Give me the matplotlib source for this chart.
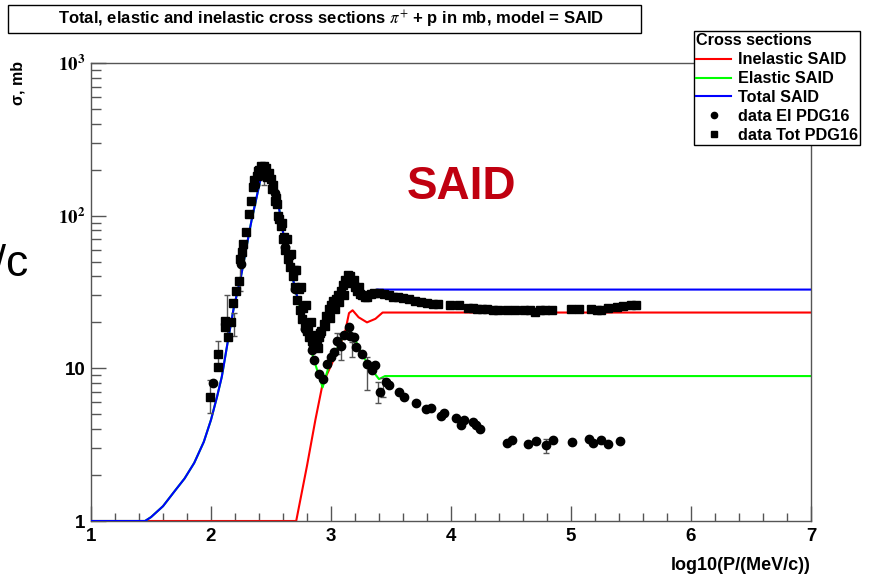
import matplotlib
matplotlib.use("Agg")
import matplotlib.pyplot as plt
from matplotlib.patches import Rectangle
from matplotlib.lines import Line2D
from matplotlib.ticker import FixedLocator, LogLocator, NullFormatter, FixedFormatter

plt.rcParams['font.family'] = ['Liberation Sans', 'DejaVu Sans']
plt.rcParams['mathtext.fontset'] = 'stix'
plt.rcParams['mathtext.bf'] = 'Liberation Sans:bold'

# SAID model curves
x_inel = [1.0, 2.71, 2.80, 2.87, 2.93, 3.02, 3.09, 3.12, 3.15, 3.18, 3.23, 3.30, 3.37, 3.43, 7.0]
y_inel = [1.0, 1.0, 2.3, 4.6, 7.9, 11.3, 15.2, 17.7, 23.0, 24.0, 21.6, 20.0, 21.1, 23.2, 23.2]

x_el = [1.0, 1.45, 1.50, 1.60, 1.70, 1.78, 1.86, 1.94, 2.00, 2.05, 2.09, 2.14, 2.19, 2.25, 2.30,
        2.34, 2.38, 2.41, 2.44, 2.47, 2.51, 2.55, 2.60, 2.66, 2.71, 2.77, 2.83, 2.88, 2.93, 2.98,
        3.03, 3.09, 3.15, 3.20, 3.26, 3.33, 3.40, 3.45, 7.0]
y_el = [1.0, 1.0, 1.06, 1.25, 1.58, 1.9, 2.4, 3.3, 4.6, 6.5, 8.8, 15, 25, 40, 65,
        95, 132, 170, 200, 190, 165, 135, 78, 46, 31, 20.5, 13.5, 10.0, 7.5, 10.2,
        12.5, 15.5, 18.0, 15.5, 12.3, 10.0, 8.5, 8.9, 8.9]

x_tot = [1.0, 1.45, 1.50, 1.60, 1.70, 1.78, 1.86, 1.94, 2.00, 2.05, 2.09, 2.14, 2.19, 2.25, 2.30,
         2.34, 2.38, 2.41, 2.44, 2.47, 2.51, 2.55, 2.60, 2.66, 2.71, 2.77, 2.83, 2.87, 2.93, 2.97,
         3.03, 3.08, 3.12, 3.15, 3.19, 3.25, 3.30, 3.35, 3.38, 7.0]
y_tot = [1.0, 1.0, 1.06, 1.25, 1.58, 1.9, 2.4, 3.3, 4.6, 6.5, 8.8, 15, 25, 40, 65,
         95, 132, 170, 200, 190, 165, 135, 78, 46, 31, 22.8, 17.7, 14.8, 17.7, 24,
         27.8, 32, 39, 42, 35.7, 31.6, 29.4, 30.5, 32.8, 32.8]

# PDG16 total cross section data (squares)
tot_x = [1.99, 2.06, 2.06, 2.12, 2.12, 2.145, 2.17, 2.18, 2.21, 2.23, 2.24, 2.26, 2.27, 2.29, 2.32,
         2.33, 2.35, 2.38, 2.40, 2.42, 2.44, 2.46, 2.48, 2.50, 2.52, 2.54, 2.56, 2.58, 2.60, 2.62,
         2.64, 2.66, 2.68, 2.70, 2.72, 2.74, 2.76, 2.78, 2.80, 2.82, 2.84, 2.86, 2.88, 2.90, 2.92,
         2.94, 2.96, 2.98, 3.00, 3.02, 3.04, 3.06, 3.08, 3.10, 3.12, 3.14, 3.16, 3.18, 3.20, 3.22,
         3.24, 3.26, 3.28, 3.30, 3.33, 3.36, 3.40, 3.44, 3.48, 3.52, 3.56, 3.60, 3.65, 3.70, 3.75,
         3.80, 3.85, 3.89, 3.99, 4.07, 4.14, 4.18, 4.22, 4.26, 4.30, 4.35, 4.39, 4.47, 4.53, 4.61,
         4.66, 4.70, 4.74, 4.78, 4.84, 5.00, 5.07, 5.17, 5.22, 5.25, 5.31, 5.38, 5.43, 5.50, 5.54,
         2.43, 2.47, 2.51, 2.55, 2.59, 2.63, 2.67, 2.71, 2.75, 2.79, 2.83, 2.87, 2.91, 2.95, 2.99,
         3.03, 3.07, 3.11, 3.15, 3.19, 3.23, 2.36, 2.39, 2.53, 2.57, 2.61, 2.65, 2.69, 2.73, 2.77,
         2.81, 2.85, 2.89]
tot_y = [6.5, 10.2, 12.5, 18.6, 20.5, 16, 20, 26.8, 32, 37.6, 52, 57.6, 65, 78, 102,
         125, 153, 182, 200, 210, 212, 205, 190, 175, 160, 130, 100, 85, 70, 60,
         52, 46, 40, 34, 28, 24, 21, 19, 17.5, 16, 15, 14.5, 14.8, 16, 17.5,
         19.5, 22, 24.5, 26, 27.5, 28.5, 30, 32, 35, 38, 41, 40, 37, 34, 32,
         30.5, 30, 29.5, 29.5, 30.5, 31, 31, 30.5, 30, 29.5, 29.2, 28.8, 28.3, 27.8, 27.3,
         26.8, 26.5, 26.3, 25.8, 25.8, 25, 24.8, 24.6, 24.5, 24.3, 24.2, 24.2, 24, 24, 24,
         24, 23.4, 24, 24, 24, 24.3, 24.6, 24.6, 24.2, 24.2, 24.8, 25.3, 25.5, 25.8, 25.8,
         185, 180, 150, 120, 90, 70, 56, 44, 34, 26, 20, 16.5, 17, 19, 21.5,
         24.5, 27, 30, 36, 38, 34, 170, 195, 125, 95, 72, 55, 44, 33, 25,
         19, 14, 13.5]

# PDG16 elastic cross section data (circles)
el_x = [2.02, 2.25, 2.37, 2.45, 2.53, 2.62, 2.70, 2.78, 2.84, 2.855, 2.90, 2.93, 2.97, 3.00, 3.025,
        3.05, 3.08, 3.11, 3.15, 3.16, 3.19, 3.21, 3.26, 3.30, 3.34, 3.37, 3.41, 3.455, 3.48, 3.57,
        3.61, 3.71, 3.79, 3.83, 3.92, 3.94, 4.04, 4.08, 4.11, 4.18, 4.21, 4.24, 4.47, 4.51, 4.64,
        4.71, 4.79, 4.85, 5.01, 5.15, 5.18, 5.25, 5.31, 5.41]
el_y = [8.0, 48, 160, 200, 140, 62, 33, 18, 13.1, 11.3, 9.2, 8.5, 10.7, 11.9, 12.8,
        15.2, 14.1, 16.5, 18.6, 16.4, 16, 13.8, 12.5, 10.7, 9.7, 10.5, 7.0, 8.1, 7.8, 7.0,
        6.5, 5.9, 5.45, 5.5, 4.9, 5.1, 4.75, 4.24, 4.57, 4.45, 4.24, 3.98, 3.22, 3.38, 3.18,
        3.33, 3.14, 3.38, 3.30, 3.43, 3.25, 3.38, 3.18, 3.33]

# error bars: x, centre, lower, upper
tot_err_x = [1.99, 2.06, 2.13, 2.19, 2.24, 2.44]
tot_err_y = [6.5, 12.5, 22, 19.5, 40, 170]
tot_err_lo = [5.1, 10.0, 16.4, 16.4, 32, 160]
tot_err_hi = [8.4, 15.2, 30, 23, 49, 172]
el_err_x = [3.05, 3.08, 3.175, 3.30, 3.39, 3.435, 4.79]
el_err_y = [15.2, 14.1, 13.5, 9.5, 7.0, 8.1, 3.14]
el_err_lo = [12.5, 11.3, 11.9, 7.2, 5.9, 6.5, 2.8]
el_err_hi = [17.0, 16.9, 14.9, 11.9, 8.1, 8.6, 3.45]

W, H = 869, 579
fig = plt.figure(figsize=(W / 100, H / 100), dpi=100)
ax = fig.add_axes([91 / W, 1 - 521 / H, 720 / W, 458 / H])

ax.plot(x_inel, y_inel, color='#ff0000', lw=1.5, label='Inelastic SAID', zorder=2)
ax.plot(x_el, y_el, color='#00ff00', lw=1.5, label='Elastic SAID', zorder=2)
ax.plot(x_tot, y_tot, color='#0000ff', lw=1.5, label='Total SAID', zorder=3)

for ex, ey, lo, hi in [(tot_err_x, tot_err_y, tot_err_lo, tot_err_hi),
                       (el_err_x, el_err_y, el_err_lo, el_err_hi)]:
    yerr = [[c - l for c, l in zip(ey, lo)], [h - c for c, h in zip(ey, hi)]]
    ax.errorbar(ex, ey, yerr=yerr, fmt='none', ecolor='#555555', elinewidth=1.0,
                capsize=2.5, capthick=1.0, zorder=4)

ax.plot(tot_x, tot_y, ls='none', marker='s', ms=5.5, color='black', label='data Tot PDG16', zorder=5)
ax.plot(el_x, el_y, ls='none', marker='o', ms=6, color='black', label='data El PDG16', zorder=5)

ax.set_yscale('log')
ax.set_xlim(1, 7)
ax.set_ylim(1, 1000)

ax.xaxis.set_major_locator(FixedLocator([1, 2, 3, 4, 5, 6, 7]))
ax.xaxis.set_minor_locator(FixedLocator([1 + 0.2 * i for i in range(31)]))
ax.yaxis.set_major_locator(FixedLocator([1, 10, 100, 1000]))
ax.yaxis.set_major_formatter(FixedFormatter(['1', '10', '$\\mathbf{10^{2}}$', '$\\mathbf{10^{3}}$']))
ax.yaxis.set_minor_locator(LogLocator(base=10, subs=range(2, 10)))
ax.yaxis.set_minor_formatter(NullFormatter())

ax.tick_params(which='both', direction='in', top=False, right=False, color='#555555',
               labelsize=13.5, width=1.0)
ax.tick_params(axis='x', which='major', length=11, pad=5)
ax.tick_params(axis='x', which='minor', length=6)
ax.tick_params(axis='y', which='major', length=11, pad=4)
ax.tick_params(axis='y', which='minor', length=7)
for lab in ax.get_xticklabels() + ax.get_yticklabels():
    lab.set_fontweight('bold')
for sp in ax.spines.values():
    sp.set_color('#555555')
    sp.set_linewidth(1.0)

ax.set_xlabel('log10(P/(MeV/c))', fontsize=13, fontweight='bold', loc='right', labelpad=9)
fig.text(18 / W, 1 - 61 / H, 'σ, mb', rotation=90, fontsize=11.5, fontweight='bold',
         ha='center', va='top')

ax.text(0.514, 0.729, 'SAID', transform=ax.transAxes, color='#c00010', fontsize=33,
        fontweight='bold', ha='center', va='center')

fig.text(29 / W, 1 - 276 / H, 'V/c', fontsize=32, ha='right', va='baseline')

# title box
fig.patches.append(Rectangle((8 / W, 1 - 33 / H), 633 / W, 28 / H, transform=fig.transFigure,
                             facecolor='white', edgecolor='black', lw=1.0))
fig.text(331 / W, 1 - 19 / H,
         'Total, elastic and inelastic cross sections $\\pi^{+}$ + p in mb, model = SAID',
         fontsize=12, fontweight='bold', ha='center', va='center')

# legend
handles, labels = ax.get_legend_handles_labels()
order = ['Inelastic SAID', 'Elastic SAID', 'Total SAID', 'data El PDG16', 'data Tot PDG16']
hmap = dict(zip(labels, handles))
leg_handles = [hmap[k] for k in order]
leg_handles[3] = Line2D([], [], ls='none', marker='o', ms=4.5, color='black')
leg_handles[4] = Line2D([], [], ls='none', marker='s', ms=4, color='black')
leg = fig.legend(leg_handles, order, loc='upper left', bbox_to_anchor=(694 / W, 1 - 31 / H),
                 title='Cross sections', alignment='left', frameon=True, fancybox=False,
                 edgecolor='black', framealpha=1, borderpad=0.15, labelspacing=0.24,
                 handlelength=2.1, handletextpad=0.45, borderaxespad=0,
                 prop={'weight': 'bold', 'size': 11.7},
                 title_fontproperties={'weight': 'bold', 'size': 11.7})
leg.get_frame().set_linewidth(1.0)

fig.savefig('out.png', dpi=100)
